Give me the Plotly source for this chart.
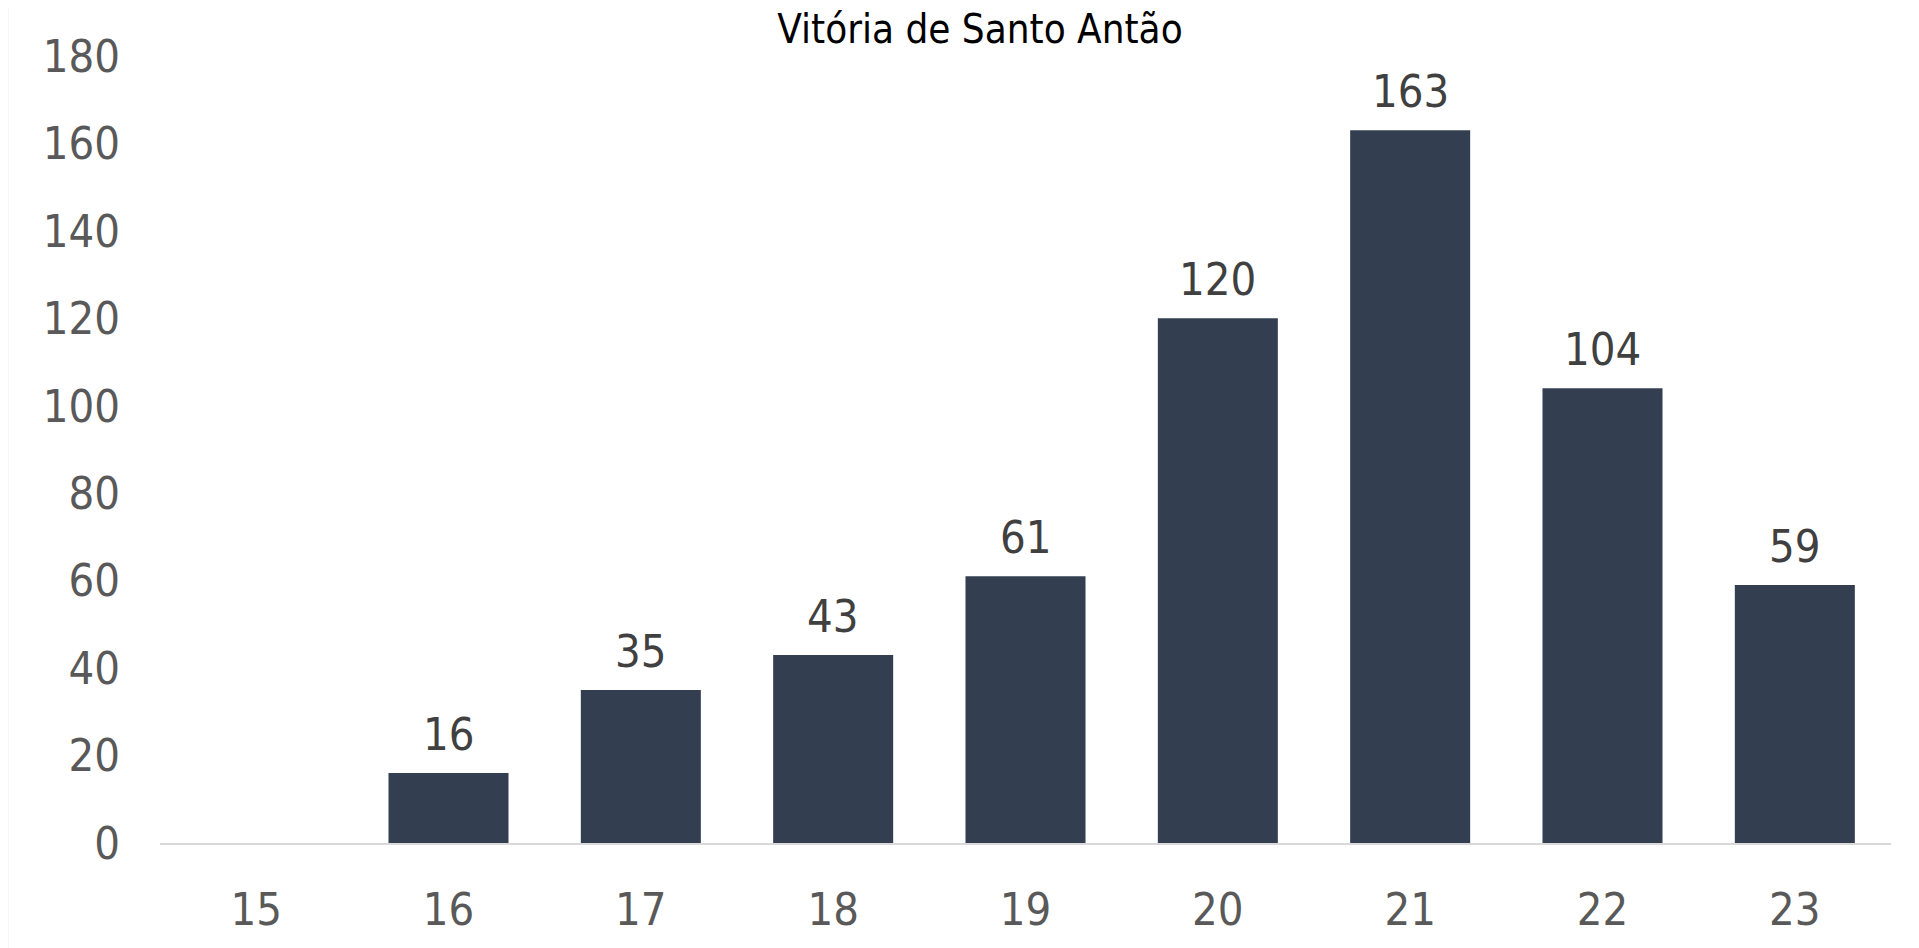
import plotly.graph_objects as go

categories = ["15", "16", "17", "18", "19", "20", "21", "22", "23"]
values = [None, 16, 35, 43, 61, 120, 163, 104, 59]
y_ticks = [0, 20, 40, 60, 80, 100, 120, 140, 160, 180]
title_text = "Vitória de Santo Antão"

FONT = "DejaVu Sans Condensed, Liberation Sans Narrow, Roboto, sans-serif"
BAR_COLOR = "#333F50"

# the page places the figure at an 8px offset
W, H = 1911, 940
L, R, T, B = 152, 28, 48, 105
PW, PH = W - L - R, H - T - B

fig = go.Figure()
fig.add_trace(go.Bar(
    x=categories,
    y=[v if v is not None else 0 for v in values],
    marker=dict(color=BAR_COLOR, line=dict(width=0)),
    hoverinfo="x+y",
))

for i, v in enumerate(values):
    if v is None:
        continue
    fig.add_annotation(
        x=i, y=v, text=str(v), showarrow=False,
        yanchor="bottom", yshift=10,
        font=dict(family=FONT, size=45, color="#404040"),
    )

fig.update_layout(
    width=W, height=H,
    margin=dict(l=L, r=R, t=T, b=B, autoexpand=False),
    paper_bgcolor="white", plot_bgcolor="white",
    bargap=0.376,
    showlegend=False,
    title=dict(
        text=title_text,
        x=(980 - 8) / W, xref="container", xanchor="center",
        y=1 - 21 / H, yref="container", yanchor="middle",
        font=dict(family=FONT, size=40, color="#000000"),
    ),
    xaxis=dict(
        type="category",
        categoryorder="array", categoryarray=categories,
        range=[-0.5, len(categories) - 0.5],
        automargin=False,
        showgrid=False, zeroline=False,
        showline=True, linecolor="#D9D9D9", linewidth=2,
        ticks="", ticklabelstandoff=26,
        tickfont=dict(family=FONT, size=45, color="#595959"),
    ),
    yaxis=dict(
        range=[0, 180],
        tickvals=y_ticks,
        automargin=False,
        showgrid=False, zeroline=False, showline=False,
        ticks="", ticklabelstandoff=39,
        tickfont=dict(family=FONT, size=45, color="#595959"),
    ),
    shapes=[dict(
        type="line", xref="paper", yref="paper",
        x0=-L / PW, x1=-L / PW,
        y0=-B / PH, y1=(PH + T) / PH,
        line=dict(color="#EBEBEB", width=1),
    )],
)

fig.write_html("out.html")
